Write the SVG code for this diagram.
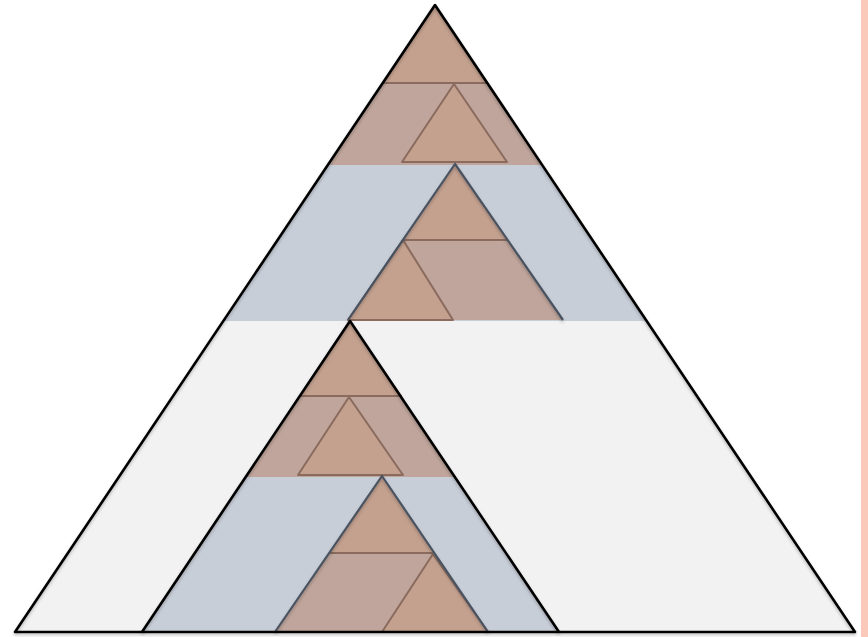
<svg xmlns="http://www.w3.org/2000/svg" width="868" height="637" viewBox="0 0 868 637">
<defs>
<style>
.gray{fill:#f2f2f2}
.blue{fill:#c8ced8}
.par{fill:#bfa59b}
.tri{fill:#c4a18f}
.bl{stroke:#8a6b5e;stroke-width:2;stroke-linejoin:round}
.sl{stroke:#4a5361;stroke-width:2.2;fill:none;stroke-linejoin:round}
.bk{stroke:#000;stroke-width:2.6;fill:none;stroke-linejoin:round}
</style>
<filter id="sh" x="-5%" y="-5%" width="110%" height="115%">
<feDropShadow dx="0" dy="2" stdDeviation="1.5" flood-color="#000" flood-opacity="0.25"/>
</filter>
</defs>
<rect x="0" y="0" width="868" height="637" fill="#fff"/>
<rect x="861" y="0" width="7" height="637" fill="#fac9ba"/>

<g id="outer">
<polygon class="gray" points="435,5 15,632 855,632"/>
</g>

<g id="upper">
<polygon class="blue" points="435,5 223,321 647,321"/>
<polygon class="par" points="435,5 328,165 542,165"/>
<polygon class="tri" points="435,5 383,83 487,83"/>
<polygon class="tri bl" points="454,84 402,162 507,162"/>
<line class="bl" x1="383" y1="83" x2="487" y2="83"/>
<polygon class="par" points="455,164 348,320 563,320"/>
<polygon class="tri" points="455,164 403,240 507,240"/>
<polygon class="tri bl" points="403,240 348,320 453,320"/>
<line class="bl" x1="403" y1="240" x2="507" y2="240"/>
<polyline class="sl" points="348,320 455,164 563,320" filter="url(#sh)"/>
<line class="sl" x1="328" y1="165" x2="542" y2="165" filter="url(#sh)"/>
</g>

<g id="lower">
<polygon class="blue" points="350,321 142,632 559,632"/>
<polygon class="par" points="350,321 246,477 455,477"/>
<polygon class="tri" points="350,321 300,396 402,396"/>
<polygon class="tri bl" points="349,397 298,475 403,475"/>
<line class="bl" x1="300" y1="396" x2="402" y2="396"/>
<polygon class="par" points="382,476 275,632 488,632"/>
<polygon class="tri" points="382,476 329,553 433,553"/>
<polygon class="tri bl" points="433,554 382,632 488,632"/>
<line class="bl" x1="329" y1="553" x2="433" y2="553"/>
<polyline class="sl" points="275,632 382,476 488,632" filter="url(#sh)"/>
<line class="sl" x1="246" y1="477" x2="455" y2="477" filter="url(#sh)"/>
<polyline class="bk" points="142,632 350,321 559,632" filter="url(#sh)"/>
</g>

<g id="edges">
<line class="bk" x1="223" y1="321" x2="647" y2="321" filter="url(#sh)"/>
<polygon class="bk" points="435,5 15,632 855,632" filter="url(#sh)"/>
</g>
</svg>
